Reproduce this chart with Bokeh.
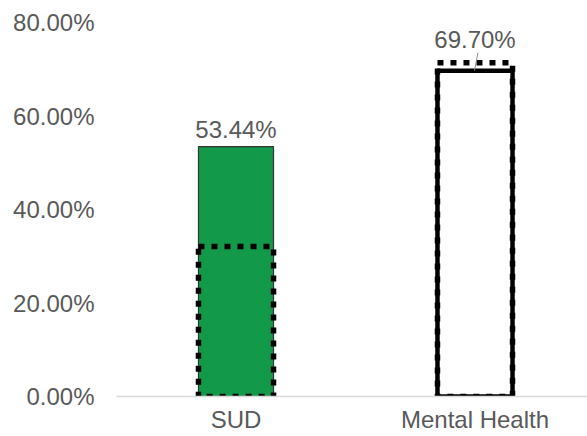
from bokeh.plotting import figure
from bokeh.models import Range1d, FixedTicker, PrintfTickFormatter, ColumnDataSource
from bokeh.core.properties import value as pv
from bokeh.embed import file_html
from bokeh.resources import INLINE

# ---- data ----
categories = ["SUD", "Mental Health"]
values = [53.44, 69.70]            # solid bars (percent)
comparison = [32.1, 71.4]          # dotted-outline bars (percent)
value_labels = ["53.44%", "69.70%"]
y_ticks = [0, 20, 40, 60, 80]

# ---- styling ----
FONT = "Liberation Sans"
GRAY = "#595959"
GREEN = "#13994a"
FS = "24px"
xs = list(range(len(categories)))
bar_w = 0.314

p = figure(width=587, height=436, output_backend="svg", toolbar_location=None,
           x_range=Range1d(-0.5, -0.5 + 471 / 239), y_range=Range1d(0, 80),
           min_border_left=116, min_border_right=0, min_border_top=22, min_border_bottom=40)
p.outline_line_color = None
p.background_fill_color = "white"
p.border_fill_color = "white"
p.xgrid.visible = False
p.ygrid.visible = False

# solid bars
src = ColumnDataSource(dict(x=xs, top=values, fill=[GREEN, "white"],
                            lc=["#333333", "black"], lw=[1.2, 4.5]))
p.vbar(x="x", top="top", width=bar_w, bottom=0, source=src,
       fill_color="fill", line_color="lc", line_width="lw")

# dotted comparison outlines
p.vbar(x=xs, top=comparison, width=bar_w, bottom=0, fill_alpha=0,
       line_color="black", line_width=5.5, line_dash="6 7", line_cap="butt")

# value labels
lsrc = ColumnDataSource(dict(x=xs, y=values, t=value_labels, yo=[-4, -18]))
p.text(x="x", y="y", text="t", y_offset="yo", source=lsrc,
       text_align="center", text_baseline="bottom",
       text_font=pv(FONT), text_font_size=FS, text_color=GRAY)

# leader line for the Mental Health label
p.segment(x0=[xs[1] - 0.002], y0=[values[1]], x1=[xs[1] + 0.012], y1=[values[1] + 3.8],
          line_color="#8c8c8c", line_width=1)

# axes
for ax in (p.xaxis, p.yaxis):
    ax.major_tick_line_color = None
    ax.minor_tick_line_color = None
    ax.major_tick_out = 0
    ax.major_tick_in = 0
    ax.minor_tick_out = 0
    ax.minor_tick_in = 0
    ax.major_label_text_font = FONT
    ax.major_label_text_font_size = FS
    ax.major_label_text_color = GRAY

p.xaxis.ticker = FixedTicker(ticks=xs)
p.xaxis.major_label_overrides = {i: c for i, c in enumerate(categories)}
p.xaxis.axis_line_color = "#d9d9d9"
p.xaxis.axis_line_width = 1.5
p.xaxis.major_label_standoff = 9

p.yaxis.ticker = FixedTicker(ticks=y_ticks)
p.yaxis.formatter = PrintfTickFormatter(format="%.2f%%")
p.yaxis.axis_line_color = None
p.yaxis.major_label_standoff = 22

open("out.html", "w").write(file_html(p, INLINE))
